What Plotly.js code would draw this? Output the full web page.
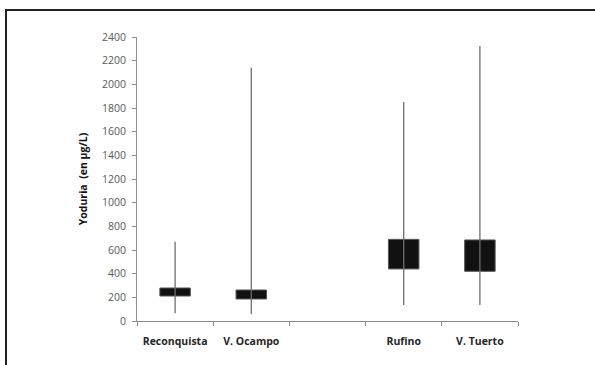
<!DOCTYPE html>
<html>
<head>
<meta charset="utf-8">
<script src="https://cdn.plot.ly/plotly-3.0.1.min.js"></script>
<style>
  html, body { margin: 0; padding: 0; background: #fff; }
  #wrap { position: relative; width: 595px; height: 365px; overflow: hidden; }
  #chart { position: absolute; left: 0; top: 0; width: 595px; height: 365px; }
  #frame { position: absolute; left: 5px; top: 9px; width: 600px; height: 400px;
           border-left: 2px solid #222; border-top: 2px solid #222; pointer-events: none; }
</style>
</head>
<body>
<div id="wrap">
  <div id="chart"></div>
  <div id="frame"></div>
</div>
<script>
const categories = ["Reconquista", "V. Ocampo", " ", "Rufino", "V. Tuerto"];
const minVals = [65, 60, null, 135, 135];
const q1Vals  = [211, 186, null, 440, 420];
const q3Vals  = [279, 262, null, 690, 685];
const maxVals = [670, 2140, null, 1850, 2325];
const yTicks  = [0, 200, 400, 600, 800, 1000, 1200, 1400, 1600, 1800, 2000, 2200, 2400];

// whiskers
const wx = [], wy = [];
categories.forEach((c, i) => {
  if (minVals[i] === null) return;
  wx.push(c, c, null);
  wy.push(minVals[i], maxVals[i], null);
});

const whiskers = {
  type: 'scatter', mode: 'lines', x: wx, y: wy,
  line: { color: '#6e6e6e', width: 1.3 }, hoverinfo: 'skip', showlegend: false
};

const boxes = {
  type: 'bar', x: categories,
  y: q3Vals.map((v, i) => v === null ? null : v - q1Vals[i]),
  base: q1Vals,
  width: 0.4,
  marker: { color: '#111111', line: { color: '#555555', width: 1 } },
  showlegend: false
};

const layout = {
  width: 595, height: 365,
  margin: { l: 137, r: 77, t: 37, b: 44 },
  paper_bgcolor: '#ffffff', plot_bgcolor: '#ffffff',
  font: { family: 'Open Sans, sans-serif' },
  showlegend: false,
  xaxis: {
    type: 'category',
    categoryorder: 'array', categoryarray: categories,
    range: [-0.5, 4.5],
    showline: true, linecolor: '#8c8c8c', linewidth: 1,
    ticks: 'outside', tickson: 'boundaries', ticklen: 4, tickcolor: '#8c8c8c',
    ticklabelstandoff: 10,
    tickfont: { size: 10.5, color: '#262626', family: 'Open Sans, sans-serif', weight: 'bold' },
    showgrid: false, zeroline: false, fixedrange: true
  },
  yaxis: {
    range: [0, 2400],
    tickvals: yTicks,
    ticktext: yTicks.map(String),
    showline: true, linecolor: '#8c8c8c', linewidth: 1,
    ticks: 'outside', ticklen: 4, tickcolor: '#8c8c8c',
    ticklabelstandoff: 4,
    tickfont: { size: 10.5, color: '#595959' },
    showgrid: false, zeroline: false,
    title: { text: 'Yoduria  (en µg/L)', standoff: 12,
             font: { size: 10.5, color: '#111', family: 'Open Sans, sans-serif', weight: 'bold' } }
  },
  bargap: 0
};

Plotly.newPlot('chart', [whiskers, boxes], layout, { staticPlot: true, displayModeBar: false });
</script>
</body>
</html>
